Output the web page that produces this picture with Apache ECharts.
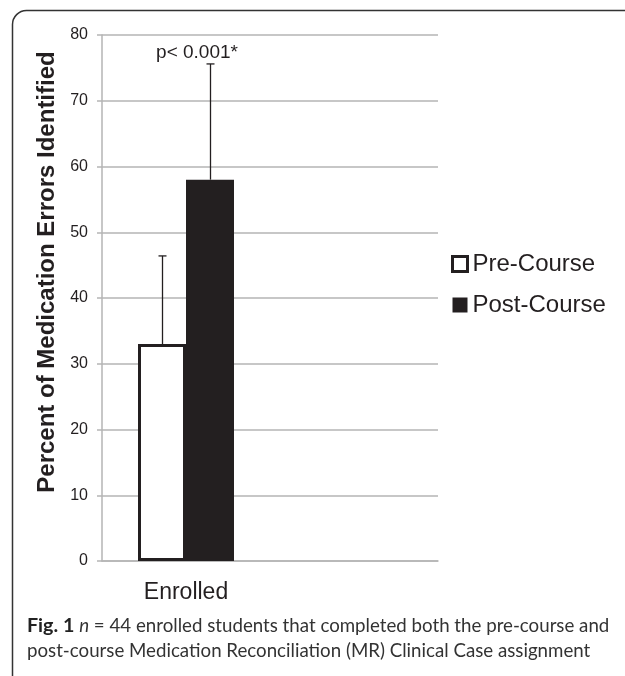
<!DOCTYPE html>
<html>
<head>
<meta charset="utf-8">
<style>
  html, body { margin: 0; padding: 0; background: #fff; }
  #chart { width: 625px; height: 676px; }
</style>
<script src="https://cdn.jsdelivr.net/npm/echarts@6/dist/echarts.min.js"></script>
</head>
<body>
<div id="chart"></div>
<script>
// ---- data ----
var categories = ['Enrolled', ''];
var seriesNames = ['Pre-Course', 'Post-Course'];
var preValues = [33.0, null];
var postValues = [58.0, null];
var preUpper = [46.4, null];
var postUpper = [75.6, null];
var yTicks = { min: 0, max: 80, interval: 10 };
var annotationText = 'p< 0.001*';
var yAxisTitle = 'Percent of Medication Errors Identified';

var INK = '#231f20';
var GRID = '#b5b5b5';
var BAR_W = 48;

var chart = echarts.init(document.getElementById('chart'), null, { renderer: 'canvas' });

function errorSeries(name, upper, base, offset) {
  var data = [];
  for (var i = 0; i < upper.length; i++) {
    if (upper[i] != null) data.push([i, base[i], upper[i]]);
  }
  return {
    type: 'custom',
    name: name + ' err',
    z: 5,
    silent: true,
    data: data,
    encode: { x: 0, y: [1, 2] },
    renderItem: function (params, api) {
      var b = api.coord([api.value(0), api.value(1)]);
      var t = api.coord([api.value(0), api.value(2)]);
      var x = Math.round(b[0] + offset) + 0.5;
      var cap = 4;
      return {
        type: 'group',
        children: [
          { type: 'line', shape: { x1: x, y1: b[1], x2: x, y2: t[1] }, style: { stroke: INK, lineWidth: 1.3 } },
          { type: 'line', shape: { x1: x - cap, y1: t[1], x2: x + cap, y2: t[1] }, style: { stroke: INK, lineWidth: 1.3 } }
        ]
      };
    }
  };
}

var option = {
  backgroundColor: '#ffffff',
  animation: false,
  textStyle: { fontFamily: 'Liberation Sans, Arial, sans-serif', color: INK },
  grid: { left: 102, right: 187, top: 35, bottom: 115, containLabel: false },
  legend: {
    orient: 'vertical',
    left: 451,
    top: 252,
    padding: 0,
    itemWidth: 15,
    itemHeight: 15,
    itemGap: 17,
    icon: 'rect',
    textStyle: { fontSize: 24, color: INK, fontFamily: 'Liberation Sans, Arial, sans-serif' },
    data: [
      { name: seriesNames[0], itemStyle: { color: '#fff', borderColor: INK, borderWidth: 3 } },
      { name: seriesNames[1], itemStyle: { color: INK } }
    ]
  },
  xAxis: {
    type: 'category',
    data: categories,
    boundaryGap: true,
    axisLine: { show: true, lineStyle: { color: GRID, width: 1.5 } },
    axisTick: { show: false },
    axisLabel: { fontSize: 23, color: INK, margin: 20 }
  },
  yAxis: {
    type: 'value',
    min: yTicks.min,
    max: yTicks.max,
    interval: yTicks.interval,
    axisLine: { show: true, lineStyle: { color: GRID, width: 1.5 } },
    axisTick: { show: true, length: 5, lineStyle: { color: GRID, width: 1.5 } },
    axisLabel: { fontSize: 16, color: INK, margin: 14 },
    splitLine: { show: true, lineStyle: { color: GRID, width: 1.5 } }
  },
  series: [
    {
      name: seriesNames[0],
      type: 'bar',
      data: preValues,
      barWidth: BAR_W,
      barGap: '0%',
      itemStyle: { color: '#ffffff', borderColor: INK, borderWidth: 3 },
      z: 3
    },
    {
      name: seriesNames[1],
      type: 'bar',
      data: postValues,
      barWidth: BAR_W,
      barGap: '0%',
      itemStyle: { color: INK },
      z: 2
    },
    errorSeries(seriesNames[0], preUpper, preValues, -BAR_W / 2),
    errorSeries(seriesNames[1], postUpper, postValues, BAR_W / 2)
  ],
  graphic: [
    {
      type: 'rect',
      left: 10, top: 8,
      shape: { width: 640, height: 680, r: 14 },
      style: { fill: 'none', stroke: '#333', lineWidth: 1.5 },
      silent: true, z: -1
    },
    {
      type: 'text',
      x: 47, y: 272,
      rotation: Math.PI / 2,
      style: {
        text: yAxisTitle,
        font: 'bold 24px "Liberation Sans", Arial, sans-serif',
        fill: INK,
        align: 'center',
        verticalAlign: 'middle'
      }
    },
    {
      type: 'text',
      x: 197, y: 53,
      style: {
        text: annotationText,
        font: '19px "Liberation Sans", Arial, sans-serif',
        fill: INK,
        align: 'center',
        verticalAlign: 'middle'
      }
    },
    {
      type: 'text',
      x: 27, y: 638,
      style: {
        text: '{b|Fig. 1} {i|n} = 44 enrolled students that completed both the pre-course and\npost-course Medication Reconciliation (MR) Clinical Case assignment',
        font: '18.7px Lato, sans-serif',
        fill: '#333',
        lineHeight: 25,
        verticalAlign: 'middle',
        rich: {
          b: { font: 'bold 19.7px Lato, sans-serif', fill: '#222', lineHeight: 25 },
          i: { font: 'italic 18.7px Lato, sans-serif', fill: '#333', lineHeight: 25 }
        }
      }
    }
  ]
};

chart.setOption(option);
</script>
</body>
</html>
